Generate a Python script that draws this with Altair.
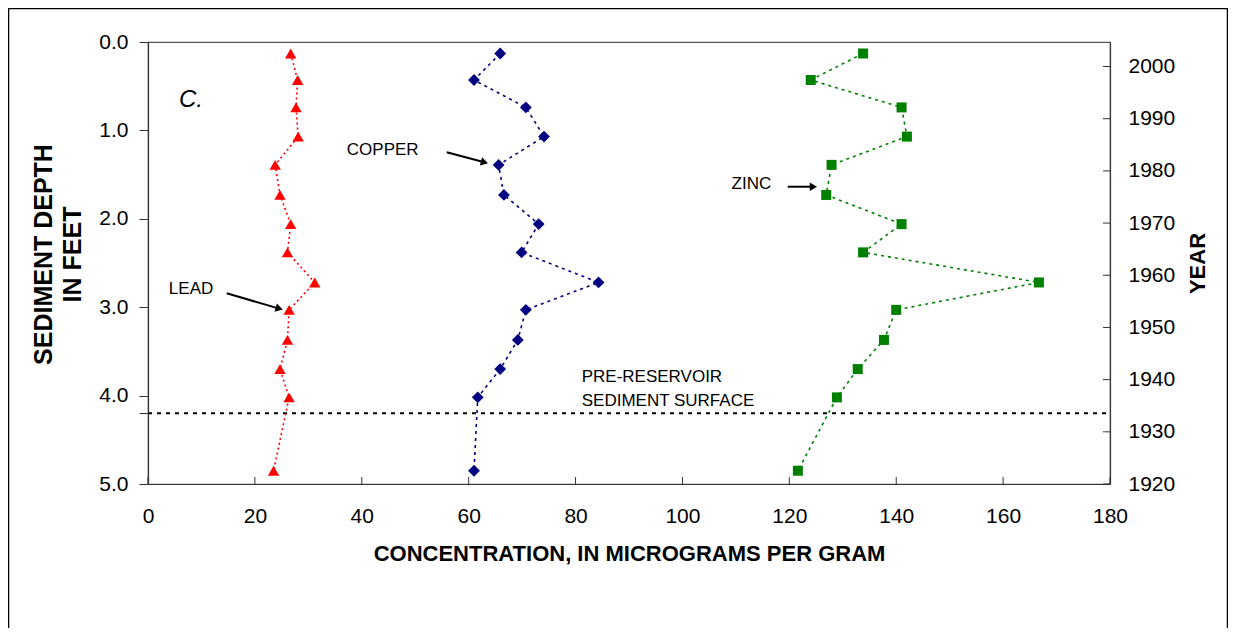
import altair as alt
import pandas as pd

# ---------------- data ----------------
depth = [0.13, 0.43, 0.74, 1.07, 1.39, 1.73, 2.06, 2.38, 2.72, 3.03, 3.37, 3.70, 4.02, 4.85]
lead = [26.7, 28.0, 27.7, 28.1, 23.8, 24.7, 26.7, 26.1, 31.2, 26.4, 26.1, 24.7, 26.4, 23.5]
copper = [65.9, 61.0, 70.7, 74.1, 65.6, 66.6, 73.1, 69.9, 84.3, 70.7, 69.2, 65.9, 61.7, 61.0]
zinc = [133.8, 124.0, 141.0, 142.0, 127.9, 126.9, 141.0, 133.8, 166.7, 140.0, 137.7, 132.8, 128.9, 121.6]

x_ticks = [0, 20, 40, 60, 80, 100, 120, 140, 160, 180]
depth_ticks = [0, 1, 2, 3, 4, 4.2, 5]
year_ticks = [1920, 1930, 1940, 1950, 1960, 1970, 1980, 1990, 2000]
year_domain = [1920, 2004.7]
preres_depth = [4.2]

label_text = ["COPPER", "LEAD", "ZINC", "PRE-RESERVOIR", "SEDIMENT SURFACE"]
label_conc = [37.2, 3.9, 109.2, 81.15, 81.15]
label_depth = [1.222, 2.794, 1.603, 3.795, 4.059]

panel_text = ["C."]
panel_conc = [5.8]
panel_depth = [0.656]

arrow_x = [55.9, 14.73, 119.7]
arrow_y = [1.248, 2.843, 1.637]
arrow_x2 = [62.95, 24.55, 124.5]
arrow_y2 = [1.361, 3.016, 1.637]
arrow_angle = [15, 16, 0]

# ---------------- styling ----------------
FONT = "Liberation Sans"
W, H = 962, 442

df_lead = pd.DataFrame({"depth": depth, "conc": lead})
df_copper = pd.DataFrame({"depth": depth, "conc": copper})
df_zinc = pd.DataFrame({"depth": depth, "conc": zinc})
df_labels = pd.DataFrame({"text": label_text, "conc": label_conc, "depth": label_depth})
df_panel = pd.DataFrame({"text": panel_text, "conc": panel_conc, "depth": panel_depth})
df_arrows = pd.DataFrame({"conc": arrow_x, "depth": arrow_y, "conc2": arrow_x2,
                          "depth2": arrow_y2, "angle": arrow_angle})

xscale = alt.Scale(domain=[0, 180], nice=False, zero=False)
yscale = alt.Scale(domain=[0, 5], reverse=True, nice=False, zero=False)

xaxis = alt.Axis(title="CONCENTRATION, IN MICROGRAMS PER GRAM", values=x_ticks, format="d",
                 ticks=False, tickSize=0, labelPadding=21, titlePadding=17,
                 titleFontSize=22, titleFontWeight="bold", labelFontSize=21,
                 labelOverlap=False, labelFlush=False, grid=False)
yaxis = alt.Axis(title=["SEDIMENT DEPTH", "IN FEET"], values=depth_ticks,
                 labelExpr="datum.value == 4.2 ? '' : format(datum.value, '.1f')",
                 tickSize=9, labelPadding=11, titlePadding=13, titleLineHeight=29,
                 titleY=212,
                 titleFontSize=25, titleFontWeight="bold", labelFontSize=21,
                 labelOverlap=False, labelFlush=False, grid=False)
yearaxis = alt.Axis(title="YEAR", orient="right", values=year_ticks, format="d",
                    ticks=False, tickSize=0, labelPadding=18, titlePadding=35,
                    titleAngle=270, titleFontSize=22, titleFontWeight="bold",
                    labelFontSize=21, labelOverlap=False, labelFlush=False, grid=False)


def X(field):
    return alt.X(field, type="quantitative", scale=xscale, axis=xaxis)


def Y(field):
    return alt.Y(field, type="quantitative", scale=yscale, axis=yaxis)


frame = alt.Chart(pd.DataFrame({"k": [0]})).mark_rect(
    filled=False, stroke="black", strokeWidth=1.5
).encode(x=alt.value(-139.5), x2=alt.value(W + 117.5), y=alt.value(-33.5), y2=alt.value(H + 300))

preres = alt.Chart(pd.DataFrame({"depth": preres_depth})).mark_rule(
    color="black", strokeWidth=2, strokeDash=[4, 5]
).encode(y=Y("depth"), x=alt.XDatum(0), x2=alt.X2Datum(180))


def series(df, color, shape, size, dash):
    line = alt.Chart(df).mark_line(color=color, strokeWidth=1.6, strokeDash=dash).encode(
        x=X("conc"), y=Y("depth"), order=alt.Order("depth:Q"))
    pts = alt.Chart(df).mark_point(shape=shape, filled=True, color=color, size=size, opacity=1).encode(
        x=X("conc"), y=Y("depth"))
    return line, pts


l_lead, p_lead = series(df_lead, "#FF0000", "triangle-up", 130, [2, 3])
l_cop, p_cop = series(df_copper, "#000080", "diamond", 140, [3, 4])
l_zinc, p_zinc = series(df_zinc, "#008000", "square", 100, [3, 4])

labels = alt.Chart(df_labels).mark_text(
    align="left", baseline="middle", fontSize=17, font=FONT, color="black"
).encode(x=X("conc"), y=Y("depth"), text="text:N")

panel = alt.Chart(df_panel).mark_text(
    align="left", baseline="middle", fontSize=24, font=FONT, fontStyle="italic", color="black"
).encode(x=X("conc"), y=Y("depth"), text="text:N")

arrow_lines = alt.Chart(df_arrows).mark_rule(color="black", strokeWidth=2).encode(
    x=X("conc"), y=Y("depth"), x2="conc2:Q", y2="depth2:Q")
arrow_heads = alt.Chart(df_arrows).mark_point(
    shape="triangle-right", filled=True, color="black", size=70, opacity=1
).encode(x=X("conc2"), y=Y("depth2"), angle=alt.Angle("angle:Q", scale=None))

xticks = alt.Chart(pd.DataFrame({"t": x_ticks})).mark_rule(color="#333333").encode(
    x=X("t"), y=alt.value(H - 7), y2=alt.value(H))

inner = alt.layer(frame, preres, l_lead, l_cop, l_zinc, p_lead, p_cop, p_zinc,
                  labels, panel, arrow_lines, arrow_heads, xticks)

year_layer = alt.Chart(pd.DataFrame({"year": year_ticks})).mark_rule(color="#333333").encode(
    y=alt.Y("year:Q", scale=alt.Scale(domain=year_domain, nice=False, zero=False), axis=yearaxis),
    x=alt.value(W - 7), x2=alt.value(W))

chart = alt.layer(inner, year_layer).resolve_scale(y="independent").properties(
    width=W, height=H,
    padding={"left": 140, "top": 34, "right": 118, "bottom": 144},
    autosize=alt.AutoSizeParams(type="none"),
).configure_view(stroke="#555555", strokeWidth=1.2).configure_axis(
    labelFont=FONT, titleFont=FONT, labelColor="black", titleColor="black",
    domainColor="#333333", tickColor="#333333", domainWidth=1.2
).configure_text(font=FONT)

chart.save("out.html", embed_options={"renderer": "svg", "actions": False})
